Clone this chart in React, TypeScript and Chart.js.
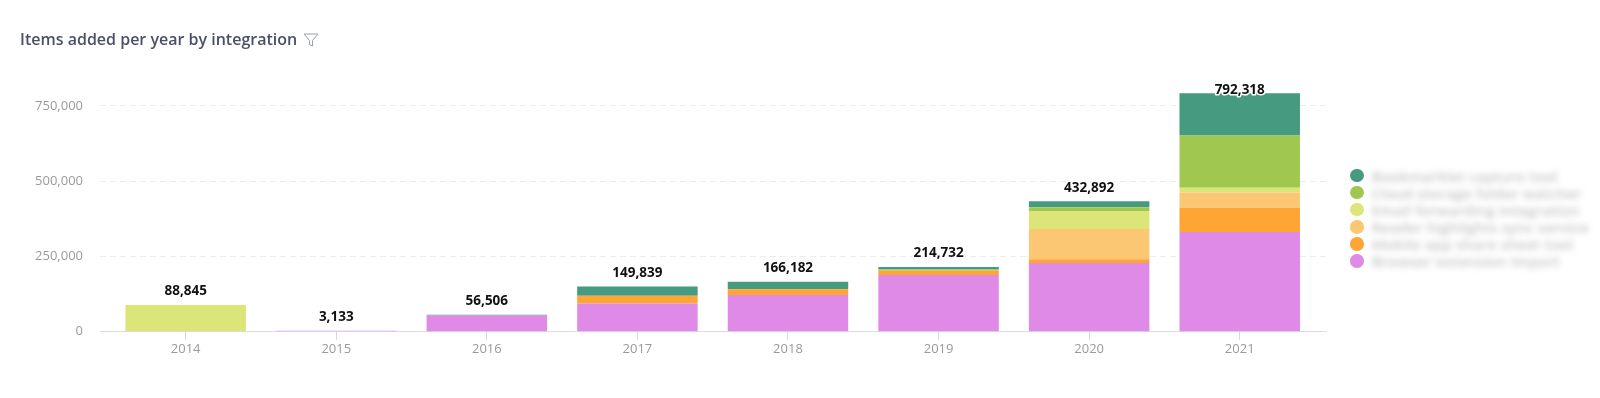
import React, { useEffect, useRef } from "react";
import { Chart, registerables } from "chart.js";

Chart.register(...registerables);

const years = ["2014", "2015", "2016", "2017", "2018", "2019", "2020", "2021"];
const yTicks = [0, 250000, 500000, 750000];

const pinkValues = [0, 3133, 54000, 94000, 122000, 188000, 228000, 331500];
const orangeValues = [0, 0, 0, 25000, 19000, 15500, 12500, 79800];
const lightOrangeValues = [0, 0, 0, 0, 0, 0, 101000, 50900];
const yellowGreenValues = [88845, 0, 0, 0, 0, 0, 59500, 15600];
const greenValues = [0, 0, 0, 0, 0, 3000, 12500, 173900];
const tealValues = [0, 0, 2506, 30839, 25182, 8232, 19392, 140618];

const seriesNames = [
  "Browser extension import",
  "Mobile app share sheet tool",
  "Reader highlights sync service",
  "Email forwarding integration",
  "Cloud storage folder watcher",
  "Bookmarklet capture tool",
];
const seriesColors = ["#df8ae6", "#fea534", "#fcc772", "#dce578", "#a0c850", "#459a80"];
const seriesValues = [pinkValues, orangeValues, lightOrangeValues, yellowGreenValues, greenValues, tealValues];

const totalsPlugin = {
  id: "totals",
  afterDatasetsDraw(chart: any) {
    const { ctx, scales, chartArea } = chart;
    const xs = scales.x;
    const ys = scales.y;
    ctx.save();
    ctx.font = "bold 13.5px 'Open Sans'";
    ctx.textAlign = "center";
    ctx.textBaseline = "middle";
    ctx.lineJoin = "round";
    years.forEach((_, i) => {
      let total = 0;
      chart.data.datasets.forEach((ds: any) => (total += ds.data[i] || 0));
      const x = xs.getPixelForValue(i);
      const yTop = ys.getPixelForValue(total);
      const y = Math.max(yTop - 13.5, chartArea.top + 7);
      const txt = total.toLocaleString("en-US");
      ctx.strokeStyle = "#ffffff";
      ctx.lineWidth = 3;
      ctx.strokeText(txt, x, y);
      ctx.fillStyle = "#111111";
      ctx.fillText(txt, x, y);
    });
    ctx.restore();
  },
};

export default function App() {
  const canvasRef = useRef<HTMLCanvasElement | null>(null);

  useEffect(() => {
    document.body.style.margin = "0";
    const canvas = canvasRef.current;
    if (!canvas) return;
    const chart = new Chart(canvas, {
      type: "bar",
      data: {
        labels: years.map((_, i) => i),
        datasets: seriesValues.map((vals, k) => ({
          label: seriesNames[k],
          data: vals,
          backgroundColor: seriesColors[k],
          borderWidth: 0,
          barPercentage: 0.8,
          categoryPercentage: 1,
        })),
      } as any,
      options: {
        animation: false,
        responsive: false,
        devicePixelRatio: 1,
        layout: { padding: { top: 83, right: 274, left: 0, bottom: 0 } },
        plugins: {
          legend: { display: false },
          tooltip: { enabled: false },
          title: { display: false },
        },
        scales: {
          x: {
            type: "linear",
            stacked: true,
            z: 1,
            min: -0.569,
            max: 7.573,
            offset: false,
            afterBuildTicks: (axis: any) => {
              axis.ticks = years.map((_, i) => ({ value: i }));
            },
            afterFit: (scale: any) => {
              scale.height = 66.3;
            },
            ticks: {
              callback: (v: any) => years[Math.round(Number(v))] ?? "",
              color: "#9a9a9a",
              font: { family: "'Open Sans'", size: 13 },
              padding: 2,
              maxRotation: 0,
              autoSkip: false,
            },
            grid: {
              offset: false,
              drawOnChartArea: false,
              drawTicks: true,
              tickLength: 8,
              color: "#d4d8ec",
            },
            border: { display: true, color: "#d8dcee", width: 1 },
          },
          y: {
            stacked: true,
            min: 0,
            max: 826000,
            afterBuildTicks: (axis: any) => {
              axis.ticks = yTicks.map((v) => ({ value: v }));
            },
            afterFit: (scale: any) => {
              scale.width = 100;
            },
            ticks: {
              callback: (v: any) => Number(v).toLocaleString("en-US"),
              color: "#9a9a9a",
              font: { family: "'Open Sans'", size: 13 },
              padding: 17,
            },
            grid: {
              drawTicks: false,
              color: (c: any) => (c.tick && c.tick.value === 0 ? "rgba(0,0,0,0)" : "#ececec"),
            },
            border: { display: false, dash: [6, 4] },
          },
        },
      } as any,
      plugins: [totalsPlugin],
    });
    return () => chart.destroy();
  }, []);

  const legendOrder = [5, 4, 3, 2, 1, 0];

  return (
    <div style={{ position: "relative", width: 1600, height: 398, background: "#fff", overflow: "hidden" }}>
      <canvas ref={canvasRef} width={1600} height={398} style={{ position: "absolute", left: 0, top: 0, width: 1600, height: 398 }} />
      <div
        style={{
          position: "absolute",
          left: 20,
          top: 28,
          fontFamily: "'Open Sans', sans-serif",
          fontWeight: 600,
          fontSize: 16,
          color: "#4a5066",
          whiteSpace: "nowrap",
          display: "flex",
          alignItems: "center",
        }}
      >
        <span>Items added per year by integration</span>
        <svg width="16" height="16" viewBox="0 0 16 16" style={{ marginLeft: 6, marginTop: 1 }}>
          <path d="M1 2 H15 L9.5 8.5 V14 L6.5 12.5 V8.5 Z" fill="none" stroke="#9aa0ae" strokeWidth="1" strokeLinejoin="round" />
        </svg>
      </div>
      <div style={{ position: "absolute", left: 1350, top: 167 }}>
        {legendOrder.map((k) => (
          <div key={k} style={{ display: "flex", alignItems: "center", height: 17.1 }}>
            <span
              style={{
                display: "inline-block",
                width: 13.5,
                height: 13.5,
                borderRadius: "50%",
                background: seriesColors[k],
                marginRight: 8,
                flex: "none",
              }}
            />
            <span
              style={{
                fontFamily: "'Open Sans', sans-serif",
                fontSize: 15,
                fontWeight: 600,
                color: "#c6c6c6",
                filter: "blur(3px)",
                whiteSpace: "nowrap",
              }}
            >
              {seriesNames[k]}
            </span>
          </div>
        ))}
      </div>
    </div>
  );
}
